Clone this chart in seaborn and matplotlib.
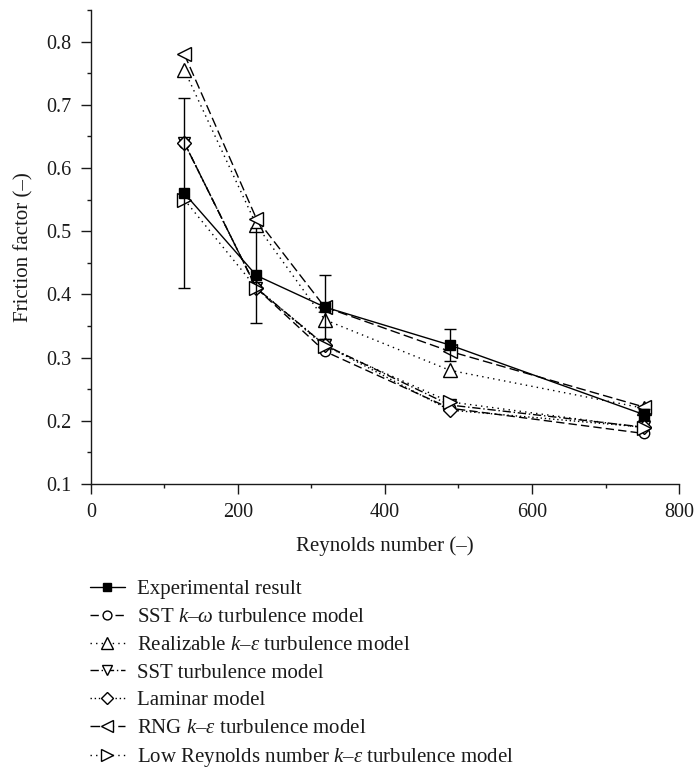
import numpy as np
import pandas as pd
import matplotlib
matplotlib.use("Agg")
import matplotlib.pyplot as plt
from matplotlib.ticker import MultipleLocator
import seaborn as sns

# Reynolds numbers of the test cases
reynolds = [127, 225, 318, 488, 752]

# Friction factor, measured and from each CFD model
experimental = [0.56, 0.43, 0.38, 0.32, 0.21]
experimental_err = [0.15, 0.075, 0.05, 0.025, 0.008]
sst_k_omega = [0.64, 0.41, 0.31, 0.22, 0.18]
realizable_k_eps = [0.755, 0.51, 0.36, 0.28, 0.22]
sst_model = [0.64, 0.41, 0.32, 0.225, 0.19]
laminar = [0.64, 0.41, 0.32, 0.217, 0.19]
rng_k_eps = [0.78, 0.52, 0.38, 0.31, 0.222]
low_re_k_eps = [0.55, 0.41, 0.318, 0.23, 0.189]

labels = [
    "Experimental result",
    r"SST $k$–$\omega$ turbulence model",
    r"Realizable $k$–$\varepsilon$ turbulence model",
    "SST turbulence model",
    "Laminar model",
    r"RNG $k$–$\varepsilon$ turbulence model",
    r"Low Reynolds number $k$–$\varepsilon$ turbulence model",
]

sns.set_style("ticks")
plt.rcParams["font.family"] = ["Liberation Serif", "DejaVu Serif"]
plt.rcParams["mathtext.fontset"] = "custom"
plt.rcParams["mathtext.rm"] = "Liberation Serif"
plt.rcParams["mathtext.it"] = "Liberation Serif:italic"

ink = "#1a1a1a"
fig = plt.figure(figsize=(6.96, 7.69), dpi=100)
ax = fig.add_axes([0.1307, 0.3706, 0.8449, 0.6164])

# (values, marker, linestyle, face colour, marker size, zorder)
series = [
    (experimental, "s", "-", "k", 7, 10),
    (sst_k_omega, "o", (0, (6, 3)), "white", 7.5, 4),
    (realizable_k_eps, "^", (0, (1, 3)), "white", 10, 3),
    (sst_model, "v", (0, (6, 2, 1, 2)), "white", 8, 2),
    (laminar, "D", (0, (1, 2)), "white", 7.5, 5),
    (rng_k_eps, "<", (0, (7, 3)), "white", 10, 3),
    (low_re_k_eps, ">", (0, (1, 3)), "white", 10, 6),
]

for (vals, mk, ls, fc, ms, z), lab in zip(series, labels):
    df = pd.DataFrame({"Re": reynolds, "f": vals})
    sns.lineplot(data=df, x="Re", y="f", ax=ax, color="k", linewidth=1.0,
                 linestyle=ls, marker=mk, markersize=ms, markerfacecolor=fc,
                 markeredgecolor="k", markeredgewidth=1.0, label=lab,
                 zorder=z, sort=False)

ax.errorbar(reynolds, experimental, yerr=experimental_err, fmt="none",
            ecolor="k", elinewidth=1.0, capsize=4.5, capthick=1.0, zorder=9)

ax.set_xlim(0, 800)
ax.set_ylim(0.1, 0.85)
ax.xaxis.set_major_locator(MultipleLocator(200))
ax.xaxis.set_minor_locator(MultipleLocator(100))
ax.set_yticks([0.1, 0.2, 0.3, 0.4, 0.5, 0.6, 0.7, 0.8])
ax.yaxis.set_minor_locator(MultipleLocator(0.05))
ax.tick_params(which="major", direction="out", length=7, width=1.0,
               labelsize=14.5, colors=ink, pad=7)
ax.tick_params(which="minor", direction="out", length=3, width=1.0, colors=ink)
sns.despine(ax=ax)
for s in ("left", "bottom"):
    ax.spines[s].set_linewidth(1.0)
    ax.spines[s].set_color(ink)

ax.set_xlabel("Reynolds number (–)", fontsize=15, labelpad=10, color=ink)
ax.set_ylabel("Friction factor (–)", fontsize=15, labelpad=9, color=ink)

handles, labs = ax.get_legend_handles_labels()
ax.get_legend().remove()
fig.legend(handles, labs, loc="upper left", bbox_to_anchor=(0.129, 0.246),
           frameon=False, fontsize=15, handlelength=1.7, handletextpad=0.55,
           labelspacing=0.39, borderpad=0.0, borderaxespad=0.0,
           markerscale=0.85, labelcolor=ink)

fig.savefig("out.png", dpi=100)
